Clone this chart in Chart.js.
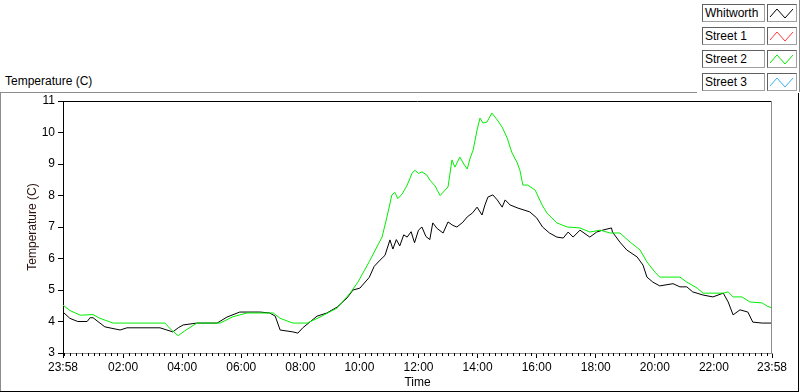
<!DOCTYPE html>
<html>
<head>
<meta charset="utf-8">
<script src="https://cdn.jsdelivr.net/npm/chart.js@4/dist/chart.umd.min.js"></script>
<style>
    html, body { margin: 0; padding: 0; background: #fff; }
    body { width: 800px; height: 392px; position: relative; overflow: hidden; font-family: "Liberation Sans", Arial, sans-serif; font-size: 12px; }
    #chart { position: absolute; left: 0; top: 0; }
    .line { position: absolute; }
    #graphLabel { position: absolute; left: 5px; top: 74px; color: #000; }
    #legend { position: absolute; left: 702px; top: 4px; }
    .row { position: absolute; left: 0; height: 18px; }
    .name { position: absolute; left: 0; top: 0; width: 59px; height: 16px; border: 1px solid #606060; border-right-color: #a0a0a0; border-bottom-color: #a0a0a0; line-height: 16px; padding-left: 2px; box-sizing: content-box; white-space: nowrap; }
    .swatch { position: absolute; left: 65px; top: 0; width: 28px; height: 16px; border: 1px solid #606060; border-right-color: #a0a0a0; border-bottom-color: #a0a0a0; }
</style>
</head>
<body>
<div class="line" style="left:0;top:92px;width:697px;height:1px;background:#8c8c8c"></div>
<div class="line" style="left:0;top:92px;width:1px;height:300px;background:#8c8c8c"></div>
<div class="line" style="left:0;top:391px;width:799px;height:1px;background:#000"></div>
<div class="line" style="left:798px;top:93px;width:1px;height:299px;background:#000"></div>
<div class="line" style="left:799px;top:0;width:1px;height:92px;background:#8c8c8c"></div>
<div id="graphLabel">Temperature (C)</div>
<div id="legend"></div>
<canvas id="chart" width="800" height="392"></canvas>
<script>
// Series names and colours (legend order)
const seriesNames = ['Whitworth', 'Street 1', 'Street 2', 'Street 3'];
const seriesColors = ['#000000', '#ff3a3a', '#00ee00', '#38aef0'];

// Time in minutes after midnight (23:58 of the day before = -2)
const whitworthTime = [-2, 12, 28, 47, 53, 59, 73, 83, 114, 128, 195, 209, 221, 232, 242, 270, 311, 331, 357, 398, 418, 429, 439, 465, 475, 485, 514, 534, 555, 575, 587, 601, 620, 630, 642, 652, 662, 668, 675, 682, 690, 697, 705, 712, 720, 727, 735, 743, 749, 758, 770, 780, 790, 798, 810, 819, 830, 839, 849, 855, 861, 871, 880, 890, 896, 906, 922, 946, 960, 972, 986, 1001, 1014, 1024, 1034, 1048, 1068, 1082, 1094, 1112, 1114, 1129, 1143, 1164, 1176, 1184, 1196, 1210, 1237, 1251, 1265, 1277, 1298, 1318, 1339, 1349, 1359, 1373, 1389, 1399, 1418, 1438];
const whitworthTemp = [4.3, 4.1, 4.0, 4.0, 4.12, 4.12, 3.95, 3.83, 3.73, 3.8, 3.8, 3.73, 3.67, 3.8, 3.89, 3.95, 3.95, 4.14, 4.3, 4.3, 4.27, 4.17, 3.73, 3.67, 3.63, 3.8, 4.17, 4.27, 4.46, 4.75, 5.0, 5.06, 5.4, 5.75, 5.95, 6.1, 6.59, 6.3, 6.6, 6.4, 6.75, 6.68, 6.85, 6.5, 6.9, 7.0, 6.7, 6.6, 7.13, 6.95, 6.81, 7.16, 7.05, 7.0, 7.15, 7.32, 7.45, 7.63, 7.38, 7.7, 7.95, 8.02, 7.86, 7.63, 7.86, 7.7, 7.6, 7.48, 7.29, 7.0, 6.81, 6.68, 6.65, 6.84, 6.68, 6.9, 6.68, 6.84, 6.9, 6.97, 6.84, 6.52, 6.27, 6.05, 5.79, 5.41, 5.25, 5.13, 5.2, 5.1, 5.1, 4.94, 4.84, 4.78, 4.9, 4.62, 4.21, 4.37, 4.3, 3.98, 3.95, 3.95];

const street1Time = [];
const street1Temp = [];

const street2Time = [-2, 12, 33, 59, 73, 100, 205, 219, 232, 245, 270, 317, 343, 372, 425, 439, 465, 494, 520, 555, 581, 597, 620, 646, 656, 666, 672, 678, 687, 697, 707, 713, 720, 727, 737, 743, 754, 758, 764, 774, 780, 788, 794, 804, 812, 819, 825, 831, 839, 845, 851, 859, 869, 880, 890, 900, 910, 920, 926, 932, 942, 957, 971, 981, 1001, 1022, 1048, 1068, 1089, 1109, 1129, 1150, 1170, 1184, 1200, 1210, 1251, 1265, 1286, 1298, 1339, 1349, 1359, 1377, 1393, 1418, 1428, 1438];
const street2Temp = [4.52, 4.35, 4.2, 4.22, 4.1, 3.95, 3.95, 3.72, 3.55, 3.7, 3.95, 3.95, 4.15, 4.27, 4.27, 4.1, 3.95, 3.95, 4.14, 4.43, 4.9, 5.25, 5.9, 6.68, 7.32, 8.02, 8.1, 7.9, 8.05, 8.33, 8.71, 8.8, 8.7, 8.75, 8.65, 8.49, 8.3, 8.17, 8.0, 8.17, 8.27, 9.13, 8.9, 9.22, 9.0, 8.84, 9.19, 9.44, 10.08, 10.46, 10.3, 10.33, 10.62, 10.4, 10.17, 9.83, 9.35, 9.06, 8.8, 8.33, 8.33, 8.17, 7.7, 7.44, 7.13, 7.0, 6.97, 6.84, 6.9, 6.81, 6.81, 6.52, 6.27, 5.89, 5.57, 5.41, 5.41, 5.25, 5.06, 4.9, 4.9, 4.94, 4.78, 4.78, 4.62, 4.59, 4.49, 4.43];

const street3Time = [];
const street3Temp = [];

// Axis ticks
const timeTicks = [-2, 120, 240, 360, 480, 600, 720, 840, 960, 1080, 1200, 1320, 1438];
const timeLabels = ['23:58', '02:00', '04:00', '06:00', '08:00', '10:00', '12:00', '14:00', '16:00', '18:00', '20:00', '22:00', '23:58'];
const tempTicks = [3, 4, 5, 6, 7, 8, 9, 10, 11];
const minorStep = 12;

const seriesTimes = [whitworthTime, street1Time, street2Time, street3Time];
const seriesTemps = [whitworthTemp, street1Temp, street2Temp, street3Temp];

const FONT = { family: '"Liberation Sans", Arial, sans-serif', size: 12 };

// Legend (HTML, LabVIEW style)
const legend = document.getElementById('legend');
seriesNames.forEach(function(name, i) {
    const row = document.createElement('div');
    row.className = 'row';
    row.style.top = (i * 23) + 'px';
    row.innerHTML = '<div class="name">' + name + '</div>' +
        '<div class="swatch"><svg width="28" height="16"><polyline points="2,12 9,4 17,13 25,4" fill="none" stroke="' +
        seriesColors[i] + '" stroke-width="1"/></svg></div>';
    legend.appendChild(row);
});

// Frame of the plot area and minor ticks on the time axis
const plotFrame = {
    id: 'plotFrame',
    afterDraw(chart) {
        const ctx = chart.ctx;
        const a = chart.chartArea;
        const xs = chart.scales.x;
        ctx.save();
        ctx.lineWidth = 1;
        ctx.strokeStyle = '#000';
        ctx.beginPath();
        ctx.moveTo(a.left, a.top + 0.5);
        ctx.lineTo(a.right, a.top + 0.5);
        ctx.stroke();
        ctx.strokeStyle = '#8c8c8c';
        ctx.beginPath();
        ctx.moveTo(a.right - 0.5, a.top);
        ctx.lineTo(a.right - 0.5, a.bottom);
        ctx.stroke();
        ctx.strokeStyle = '#000';
        ctx.beginPath();
        for (let m = 0; m < xs.max; m += minorStep) {
            if (timeTicks.indexOf(m) >= 0) continue;
            const px = Math.round(xs.getPixelForValue(m)) + 0.5;
            ctx.moveTo(px, a.bottom);
            ctx.lineTo(px, a.bottom + 3);
        }
        ctx.stroke();
        ctx.restore();
    }
};

const ctx = document.getElementById('chart').getContext('2d');
const chart = new Chart(ctx, {
    type: 'line',
    data: {
        datasets: seriesNames.map(function(name, i) {
            return {
                label: name,
                data: seriesTimes[i].map(function(t, j) { return { x: t, y: seriesTemps[i][j] }; }),
                borderColor: seriesColors[i],
                backgroundColor: seriesColors[i],
                borderWidth: 1,
                pointRadius: 0,
                tension: 0,
                fill: false
            };
        }).reverse()
    },
    options: {
        responsive: false,
        animation: false,
        layout: { padding: { left: 0, right: 28, top: 101, bottom: 0 } },
        plugins: {
            legend: { display: false },
            tooltip: { enabled: false }
        },
        scales: {
            x: {
                type: 'linear',
                min: -2,
                max: 1438,
                afterFit: function(scale) { scale.height = 39; },
                afterBuildTicks: function(scale) {
                    scale.ticks = timeTicks.map(function(v) { return { value: v }; });
                },
                grid: { drawOnChartArea: false, drawTicks: true, tickLength: 5, tickColor: '#000', tickWidth: 1 },
                border: { color: '#8c8c8c', width: 1 },
                ticks: {
                    autoSkip: false,
                    maxRotation: 0,
                    padding: 2,
                    color: '#000',
                    font: FONT,
                    callback: function(v, i) { return timeLabels[i]; }
                },
                title: { display: true, text: 'Time', color: '#000', font: FONT, padding: { top: 0, bottom: 2 } }
            },
            y: {
                min: 3,
                max: 11,
                afterFit: function(scale) { scale.width = 63; },
                afterBuildTicks: function(scale) {
                    scale.ticks = tempTicks.map(function(v) { return { value: v }; });
                },
                grid: { drawOnChartArea: false, drawTicks: true, tickLength: 5, tickColor: '#000' },
                border: { color: '#000', width: 1 },
                ticks: { padding: 3, color: '#000', font: FONT },
                title: { display: true, text: 'Temperature (C)', color: '#2a1010', font: FONT, padding: { top: 25, bottom: 0 } }
            }
        }
    },
    plugins: [plotFrame]
});
</script>
</body>
</html>
